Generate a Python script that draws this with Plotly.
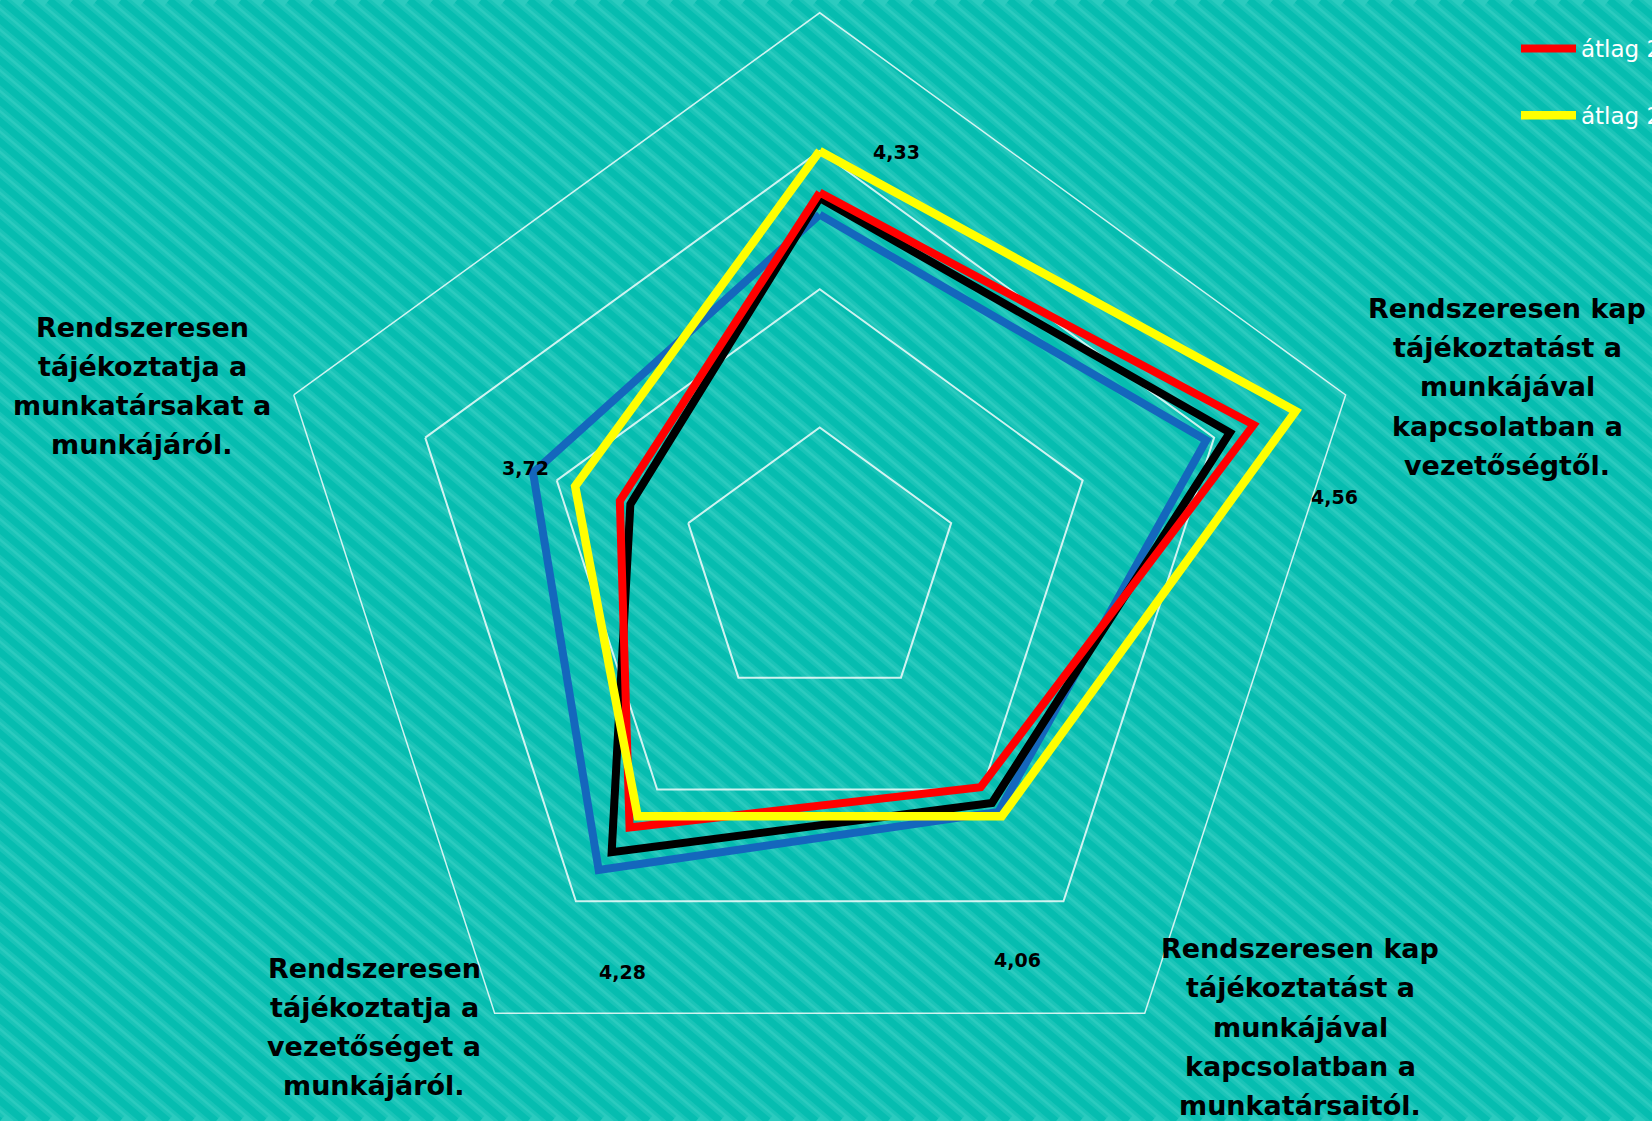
import plotly.graph_objects as go

# ---------------- data ----------------
categories = [
    "Rendszeresen kap visszajelzést a munkájáról.",
    "Rendszeresen kap tájékoztatást a munkájával kapcsolatban a vezetőségtől.",
    "Rendszeresen kap tájékoztatást a munkájával kapcsolatban a munkatársaitól.",
    "Rendszeresen tájékoztatja a vezetőséget a munkájáról.",
    "Rendszeresen tájékoztatja a munkatársakat a munkájáról.",
]
category_label_lines = [
    [],
    ["Rendszeresen kap", "tájékoztatást a", "munkájával", "kapcsolatban a", "vezetőségtől."],
    ["Rendszeresen kap", "tájékoztatást a", "munkájával", "kapcsolatban a", "munkatársaitól."],
    ["Rendszeresen", "tájékoztatja a", "vezetőséget a", "munkájáról."],
    ["Rendszeresen", "tájékoztatja a", "munkatársakat a", "munkájáról."],
]
series_names = ["átlag 2017", "átlag 2018", "átlag 2019", "átlag 2020"]
blue_vals = [4.27, 4.47, 4.10, 4.36, 4.09]
black_vals = [4.33, 4.56, 4.06, 4.28, 3.72]
red_vals = [4.35, 4.65, 3.99, 4.17, 3.76]
yellow_vals = [4.50, 4.81, 4.12, 4.12, 3.93]
radial_ticks = [3.5, 4.0, 4.5, 5.0]

# ---------------- layout constants ----------------
W, H = 1652, 1121
CX, CY, R = 819.7, 565.8, 553.0
LIGHT = "#2BCBBF"
DARK = "#06BDB0"
GRID = "rgba(255,255,255,0.8)"
FONT = "DejaVu Sans"
LINE_GAP = 39.3

def px(x):
    return x / W

def py(y):
    return 1 - y / H

fig = go.Figure()

styles = [
    (blue_vals, "#1467BD", 8, False),
    (black_vals, "#000000", 8, False),
    (red_vals, "#FF0000", 8, True),
    (yellow_vals, "#FFFF00", 8.5, True),
]
for i, (vals, color, width, show) in enumerate(styles):
    fig.add_trace(go.Scatterpolar(
        r=vals + vals[:1],
        theta=categories + categories[:1],
        mode="lines",
        name=series_names[i],
        line=dict(color=color, width=width),
        showlegend=show,
        legendgroup=series_names[i],
        hoverinfo="skip",
    ))

# background stripes (decoration)
shapes = []
slope = 0.85
run = H / slope
step = 24
x0 = -run - step
while x0 < W + step:
    for wdt, col in ((13, "rgba(6,189,176,0.45)"), (7, DARK)):
        shapes.append(dict(
            type="line", xref="paper", yref="paper", layer="below",
            x0=px(x0), y0=py(0), x1=px(x0 + run), y1=py(H),
            line=dict(color=col, width=wdt),
        ))
    x0 += step

# category label annotations (text only, one per line)
label_pos = {1: (1507, 387), 2: (1300, 1027), 3: (374, 1027), 4: (142, 386)}
annotations = []
for idx, (lx, ly) in label_pos.items():
    lines = category_label_lines[idx]
    n = len(lines)
    for k, line in enumerate(lines):
        annotations.append(dict(
            text="<b>" + line + "</b>", xref="paper", yref="paper",
            x=px(lx), y=py(ly + (k - (n - 1) / 2) * LINE_GAP),
            xanchor="center", yanchor="middle", showarrow=False,
            font=dict(family=FONT, size=27, color="#000000"),
        ))

# data labels of the black series
value_label_pos = [(897, 152), (1334, 497), (1017, 960), (622, 972), (525, 468)]
for v, (lx, ly) in zip(black_vals, value_label_pos):
    annotations.append(dict(
        text="<b>" + f"{v:.2f}".replace(".", ",") + "</b>", xref="paper", yref="paper",
        x=px(lx), y=py(ly), xanchor="center", yanchor="middle", showarrow=False,
        font=dict(family=FONT, size=19, color="#000000"),
    ))

fig.update_layout(
    width=W, height=H,
    margin=dict(l=0, r=0, t=0, b=0, autoexpand=False),
    paper_bgcolor=LIGHT,
    plot_bgcolor="rgba(0,0,0,0)",
    shapes=shapes,
    annotations=annotations,
    font=dict(family=FONT),
    polar=dict(
        domain=dict(x=[px(CX - R), px(CX + R)], y=[py(CY + R), py(CY - R)]),
        bgcolor="rgba(0,0,0,0)",
        gridshape="linear",
        radialaxis=dict(
            range=[3, 5], tickvals=radial_ticks, showticklabels=False,
            ticks="", showline=False, showgrid=True, gridcolor=GRID, gridwidth=1.5,
        ),
        angularaxis=dict(
            rotation=90, direction="clockwise", showticklabels=False, ticks="",
            showgrid=False, showline=True, linecolor=GRID, linewidth=1.5,
            categoryorder="array", categoryarray=categories,
        ),
    ),
    legend=dict(
        x=px(1516), y=py(27), xanchor="left", yanchor="top",
        bgcolor="rgba(0,0,0,0)", font=dict(family=FONT, size=23, color="#FFFFFF"),
        tracegroupgap=34, itemwidth=55,
    ),
)

fig.write_html(
    "out.html",
    config={"displayModeBar": False},
    post_script="document.body.style.margin='0';",
)
